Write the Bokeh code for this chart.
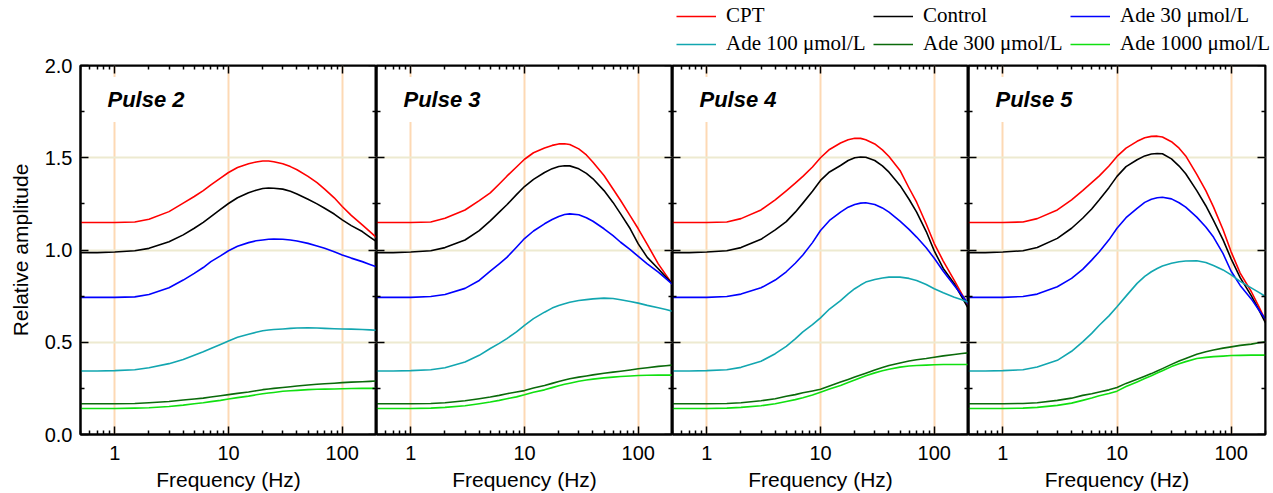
from bokeh.plotting import figure
from bokeh.layouts import column, row
from bokeh.models import (Range1d, LinearAxis, LogAxis, FixedTicker, NumeralTickFormatter,
                          CustomJSTickFormatter, Grid, Label, Legend, LegendItem)
from bokeh.embed import file_html
from bokeh.resources import INLINE

# ---------------- data ----------------
freq = [0.5, 0.7, 1, 1.5, 2, 3, 4, 5, 6, 7, 8.5, 10, 12, 15, 17.5, 20, 22.5, 25, 30, 35,
        40, 50, 60, 70, 85, 100, 120, 150, 175, 200]

series_names = ["CPT", "Control", "Ade 30 \u03bcmol/L", "Ade 100 \u03bcmol/L",
                "Ade 300 \u03bcmol/L", "Ade 1000 \u03bcmol/L"]
series_colors = ["#FF0000", "#000000", "#0000FF", "#12A6B0", "#0A6A0A", "#10E010"]
panel_titles = ["Pulse 2", "Pulse 3", "Pulse 4", "Pulse 5"]

p2_cpt = [1.149, 1.149, 1.149, 1.152, 1.167, 1.208, 1.254, 1.290, 1.322, 1.353, 1.390, 1.420, 1.447, 1.467, 1.477, 1.482, 1.482, 1.478, 1.467, 1.452, 1.435, 1.399, 1.365, 1.330, 1.283, 1.236, 1.188, 1.136, 1.100, 1.067]
p2_ctrl = [0.986, 0.986, 0.989, 0.996, 1.009, 1.045, 1.082, 1.118, 1.150, 1.181, 1.220, 1.252, 1.283, 1.310, 1.324, 1.333, 1.336, 1.335, 1.330, 1.318, 1.304, 1.275, 1.250, 1.226, 1.195, 1.163, 1.132, 1.100, 1.070, 1.045]
p2_a30 = [0.743, 0.743, 0.743, 0.746, 0.759, 0.795, 0.837, 0.873, 0.905, 0.937, 0.968, 0.996, 1.020, 1.040, 1.050, 1.054, 1.058, 1.060, 1.058, 1.054, 1.049, 1.036, 1.022, 1.009, 0.990, 0.973, 0.956, 0.937, 0.922, 0.909]
p2_a100 = [0.344, 0.344, 0.346, 0.351, 0.362, 0.384, 0.406, 0.429, 0.448, 0.466, 0.488, 0.507, 0.527, 0.543, 0.554, 0.562, 0.566, 0.569, 0.572, 0.575, 0.577, 0.578, 0.577, 0.575, 0.573, 0.572, 0.571, 0.569, 0.567, 0.565]
p2_a300 = [0.167, 0.167, 0.167, 0.168, 0.172, 0.179, 0.187, 0.192, 0.197, 0.203, 0.210, 0.216, 0.223, 0.230, 0.237, 0.243, 0.247, 0.250, 0.255, 0.259, 0.263, 0.268, 0.272, 0.275, 0.278, 0.281, 0.284, 0.286, 0.288, 0.290]
p2_a1000 = [0.141, 0.141, 0.141, 0.143, 0.145, 0.152, 0.159, 0.167, 0.172, 0.178, 0.185, 0.192, 0.200, 0.208, 0.215, 0.221, 0.225, 0.228, 0.234, 0.237, 0.239, 0.243, 0.245, 0.246, 0.247, 0.248, 0.249, 0.250, 0.250, 0.250]

p3_cpt = [1.149, 1.149, 1.149, 1.152, 1.172, 1.217, 1.268, 1.310, 1.358, 1.400, 1.450, 1.492, 1.527, 1.553, 1.567, 1.575, 1.576, 1.572, 1.548, 1.515, 1.476, 1.404, 1.331, 1.268, 1.185, 1.115, 1.030, 0.925, 0.865, 0.813]
p3_ctrl = [0.986, 0.986, 0.989, 0.996, 1.013, 1.054, 1.105, 1.158, 1.205, 1.245, 1.300, 1.344, 1.383, 1.420, 1.441, 1.453, 1.457, 1.456, 1.440, 1.415, 1.386, 1.322, 1.258, 1.196, 1.115, 1.033, 0.960, 0.898, 0.853, 0.817]
p3_a30 = [0.743, 0.743, 0.743, 0.748, 0.759, 0.792, 0.835, 0.885, 0.925, 0.960, 1.015, 1.062, 1.103, 1.142, 1.165, 1.182, 1.192, 1.196, 1.191, 1.175, 1.156, 1.115, 1.078, 1.042, 1.002, 0.965, 0.925, 0.880, 0.845, 0.813]
p3_a100 = [0.344, 0.344, 0.346, 0.351, 0.362, 0.393, 0.429, 0.466, 0.494, 0.520, 0.556, 0.591, 0.628, 0.663, 0.685, 0.699, 0.709, 0.717, 0.726, 0.731, 0.735, 0.739, 0.737, 0.730, 0.721, 0.712, 0.700, 0.687, 0.677, 0.668]
p3_a300 = [0.167, 0.167, 0.167, 0.168, 0.172, 0.183, 0.194, 0.203, 0.212, 0.221, 0.230, 0.238, 0.252, 0.266, 0.277, 0.287, 0.295, 0.302, 0.311, 0.317, 0.323, 0.332, 0.338, 0.343, 0.350, 0.356, 0.362, 0.369, 0.373, 0.376]
p3_a1000 = [0.141, 0.141, 0.141, 0.143, 0.147, 0.156, 0.167, 0.176, 0.185, 0.194, 0.204, 0.215, 0.229, 0.242, 0.254, 0.264, 0.272, 0.278, 0.289, 0.295, 0.300, 0.307, 0.311, 0.314, 0.317, 0.320, 0.321, 0.322, 0.322, 0.322]

p4_cpt = [1.149, 1.149, 1.149, 1.152, 1.170, 1.217, 1.272, 1.321, 1.362, 1.399, 1.450, 1.500, 1.545, 1.580, 1.598, 1.606, 1.605, 1.597, 1.575, 1.543, 1.507, 1.431, 1.336, 1.259, 1.141, 1.035, 0.940, 0.835, 0.761, 0.699]
p4_ctrl = [0.986, 0.986, 0.989, 0.996, 1.013, 1.058, 1.109, 1.154, 1.205, 1.254, 1.318, 1.377, 1.423, 1.458, 1.485, 1.500, 1.504, 1.503, 1.485, 1.456, 1.422, 1.350, 1.275, 1.205, 1.100, 0.995, 0.900, 0.817, 0.745, 0.681]
p4_a30 = [0.743, 0.743, 0.743, 0.748, 0.761, 0.795, 0.837, 0.882, 0.928, 0.973, 1.040, 1.106, 1.160, 1.205, 1.232, 1.247, 1.254, 1.256, 1.247, 1.228, 1.205, 1.156, 1.112, 1.070, 1.012, 0.955, 0.885, 0.808, 0.755, 0.705]
p4_a100 = [0.344, 0.344, 0.346, 0.351, 0.364, 0.397, 0.438, 0.478, 0.518, 0.556, 0.595, 0.632, 0.680, 0.726, 0.762, 0.790, 0.810, 0.826, 0.840, 0.848, 0.853, 0.853, 0.846, 0.835, 0.813, 0.790, 0.768, 0.744, 0.730, 0.717]
p4_a300 = [0.167, 0.167, 0.167, 0.168, 0.172, 0.183, 0.194, 0.207, 0.216, 0.226, 0.236, 0.245, 0.263, 0.284, 0.298, 0.311, 0.322, 0.332, 0.350, 0.363, 0.374, 0.388, 0.398, 0.405, 0.412, 0.419, 0.426, 0.434, 0.439, 0.443]
p4_a1000 = [0.141, 0.141, 0.141, 0.143, 0.147, 0.156, 0.167, 0.179, 0.189, 0.199, 0.214, 0.229, 0.247, 0.266, 0.282, 0.296, 0.308, 0.318, 0.334, 0.345, 0.354, 0.365, 0.371, 0.374, 0.376, 0.378, 0.379, 0.379, 0.379, 0.379]

p5_cpt = [1.149, 1.149, 1.149, 1.152, 1.170, 1.217, 1.272, 1.322, 1.365, 1.402, 1.455, 1.507, 1.552, 1.589, 1.608, 1.616, 1.617, 1.612, 1.587, 1.552, 1.510, 1.410, 1.322, 1.234, 1.110, 0.990, 0.875, 0.775, 0.693, 0.617]
p5_ctrl = [0.986, 0.986, 0.989, 0.996, 1.014, 1.063, 1.118, 1.172, 1.222, 1.272, 1.338, 1.399, 1.452, 1.489, 1.510, 1.520, 1.523, 1.522, 1.494, 1.455, 1.413, 1.322, 1.240, 1.160, 1.055, 0.952, 0.850, 0.753, 0.675, 0.605]
p5_a30 = [0.743, 0.743, 0.743, 0.748, 0.761, 0.801, 0.846, 0.895, 0.945, 0.991, 1.055, 1.118, 1.175, 1.226, 1.258, 1.275, 1.283, 1.286, 1.277, 1.256, 1.232, 1.178, 1.125, 1.070, 0.980, 0.885, 0.808, 0.735, 0.675, 0.625]
p5_a100 = [0.344, 0.344, 0.346, 0.351, 0.366, 0.402, 0.451, 0.502, 0.548, 0.592, 0.643, 0.692, 0.750, 0.819, 0.857, 0.882, 0.900, 0.913, 0.928, 0.936, 0.940, 0.942, 0.932, 0.916, 0.892, 0.865, 0.830, 0.795, 0.770, 0.748]
p5_a300 = [0.167, 0.167, 0.167, 0.168, 0.172, 0.185, 0.197, 0.212, 0.221, 0.230, 0.242, 0.255, 0.277, 0.300, 0.316, 0.330, 0.344, 0.357, 0.380, 0.398, 0.412, 0.435, 0.448, 0.458, 0.468, 0.475, 0.483, 0.490, 0.497, 0.502]
p5_a1000 = [0.141, 0.141, 0.141, 0.143, 0.147, 0.158, 0.170, 0.185, 0.198, 0.210, 0.222, 0.235, 0.260, 0.285, 0.303, 0.318, 0.333, 0.345, 0.368, 0.383, 0.395, 0.412, 0.418, 0.422, 0.425, 0.428, 0.429, 0.430, 0.430, 0.430]

panel_series = [
    [p2_cpt, p2_ctrl, p2_a30, p2_a100, p2_a300, p2_a1000],
    [p3_cpt, p3_ctrl, p3_a30, p3_a100, p3_a300, p3_a1000],
    [p4_cpt, p4_ctrl, p4_a30, p4_a100, p4_a300, p4_a1000],
    [p5_cpt, p5_ctrl, p5_a30, p5_a100, p5_a300, p5_a1000],
]

x_major = [1, 10, 100]
x_minor = [0.5, 0.6, 0.7, 0.8, 0.9, 2, 3, 4, 5, 6, 7, 8, 9,
           20, 30, 40, 50, 60, 70, 80, 90, 200]
y_major = [0.0, 0.5, 1.0, 1.5, 2.0]
y_minor = [0.25, 0.75, 1.25, 1.75]
y_grid_vals = [0.5, 1.0, 1.5]

SANS = "Liberation Sans"
SERIF = "Liberation Serif"


def style_axis(ax):
    ax.axis_line_color = "black"
    ax.axis_line_width = 2
    ax.major_tick_line_color = "black"
    ax.major_tick_line_width = 1.5
    ax.minor_tick_line_color = "black"
    ax.minor_tick_line_width = 1.5
    ax.major_tick_in = 8
    ax.major_tick_out = 0
    ax.minor_tick_in = 4
    ax.minor_tick_out = 0
    ax.major_label_text_font = SANS
    ax.major_label_text_font_size = "20px"
    ax.major_label_text_color = "black"
    ax.axis_label_text_font = SANS
    ax.axis_label_text_font_size = "21px"
    ax.axis_label_text_font_style = "normal"
    ax.axis_label_text_color = "black"


def empty_fmt():
    return CustomJSTickFormatter(code="return ''")


def make_panel(i):
    first = i == 0
    last = i == 3
    p = figure(frame_width=297 if last else 296, frame_height=369,
               x_axis_type="log", x_range=Range1d(0.5, 200), y_range=Range1d(0, 2),
               x_axis_location=None, y_axis_location=None,
               toolbar_location=None, output_backend="svg",
               min_border_left=80 if first else 0, min_border_right=8 if last else 0,
               min_border_top=11, min_border_bottom=59,
               outline_line_color="black", outline_line_width=2,
               background_fill_color="white", border_fill_color="white")

    p.add_layout(Grid(dimension=0, ticker=FixedTicker(ticks=x_major),
                      grid_line_color="#FDD9B4", grid_line_width=2))
    p.add_layout(Grid(dimension=1, ticker=FixedTicker(ticks=y_grid_vals),
                      grid_line_color="#EDEAD0", grid_line_width=2))

    xb = LogAxis(ticker=FixedTicker(ticks=x_major, minor_ticks=x_minor),
                 formatter=NumeralTickFormatter(format="0"),
                 axis_label="Frequency (Hz)")
    style_axis(xb)
    xb.major_label_standoff = 11
    xb.axis_label_standoff = 5
    p.add_layout(xb, "below")

    xt = LogAxis(ticker=FixedTicker(ticks=x_major, minor_ticks=x_minor),
                 formatter=empty_fmt(), fixed_location=2.0)
    style_axis(xt)
    p.add_layout(xt, "above")

    if first:
        yl = LinearAxis(ticker=FixedTicker(ticks=y_major, minor_ticks=y_minor),
                        formatter=NumeralTickFormatter(format="0.0"),
                        axis_label="Relative amplitude")
        style_axis(yl)
        yl.major_label_standoff = 8
        yl.axis_label_standoff = 10
    else:
        yl = LinearAxis(ticker=FixedTicker(ticks=y_major, minor_ticks=y_minor),
                        formatter=empty_fmt(), fixed_location=0.5)
        style_axis(yl)
    p.add_layout(yl, "left")

    yr = LinearAxis(ticker=FixedTicker(ticks=y_major, minor_ticks=y_minor),
                    formatter=empty_fmt(), fixed_location=200)
    style_axis(yr)
    p.add_layout(yr, "right")

    for vals, c in zip(panel_series[i], series_colors):
        p.line(freq, vals, line_color=c, line_width=1.6, line_join="round")

    p.add_layout(Label(x=17, y=335, x_units="screen", y_units="screen",
                       text=panel_titles[i], text_font=SANS, text_font_size="22px",
                       text_font_style="bold italic", text_color="black",
                       text_baseline="middle", text_align="left",
                       background_fill_color="white", padding=10))
    return p


panels = [make_panel(i) for i in range(4)]

# legend strip on top: the legend's renderers hold Pulse 2 data but lie outside this strip's range
top = figure(width=1273, height=54, x_range=Range1d(0, 1), y_range=Range1d(5, 6),
             x_axis_location=None, y_axis_location=None, toolbar_location=None,
             output_backend="svg", min_border=0, outline_line_color=None)
for r in list(top.center):
    if isinstance(r, Grid):
        r.visible = False
legend_renderers = [top.line(freq, vals, line_color=c, line_width=1.6)
                    for vals, c in zip(panel_series[0], series_colors)]
legend = Legend(items=[LegendItem(label=n, renderers=[r])
                       for n, r in zip(series_names, legend_renderers)],
                location=(676, -2), orientation="horizontal", ncols=3,
                label_text_font=SERIF, label_text_font_size="21px", label_text_color="black",
                label_standoff=10, glyph_width=40, glyph_height=20, label_height=20,
                label_width=144, spacing=3, padding=0, margin=0,
                border_line_color=None, background_fill_alpha=0)
top.add_layout(legend)

layout = column(top, row(*panels, spacing=0), spacing=0)

open("out.html", "w").write(file_html(layout, INLINE))
